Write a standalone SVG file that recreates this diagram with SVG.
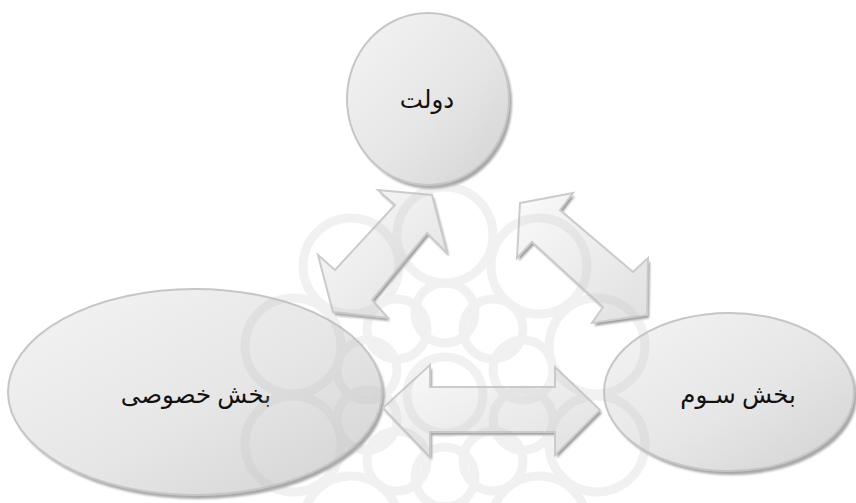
<svg xmlns="http://www.w3.org/2000/svg" width="856" height="503" viewBox="0 0 856 503">
<defs>
<linearGradient id="eg" x1="0" y1="0" x2="1" y2="1">
<stop offset="0" stop-color="#f4f4f4"/>
<stop offset="0.55" stop-color="#e6e6e6"/>
<stop offset="1" stop-color="#d2d2d2"/>
</linearGradient>
<linearGradient id="ag" x1="0" y1="0" x2="1" y2="1">
<stop offset="0" stop-color="#fafafa"/>
<stop offset="1" stop-color="#e0e0e0"/>
</linearGradient>
<filter id="sh" x="-10%" y="-10%" width="130%" height="130%">
<feGaussianBlur stdDeviation="1.2"/>
</filter>
<style>
.ell{fill:url(#eg);stroke:#c6c6c6;stroke-width:2}
.eshadow{fill:#a9a9a9;filter:url(#sh)}
.arr{fill:url(#ag);stroke:#cbcbcb;stroke-width:2;stroke-linejoin:miter}
.ashadow{fill:#9c9c9c;filter:url(#sh)}
.lbl{font-family:"Liberation Serif","DejaVu Sans",serif;font-size:24.5px;fill:#111;text-anchor:middle}
.wm{fill:none;stroke:#bdbdbd;stroke-width:9}
</style>
</defs>
<rect width="856" height="503" fill="#ffffff"/>

<g id="node-dolat">
<ellipse class="eshadow" cx="431" cy="103" rx="81" ry="86"/>
<ellipse class="ell" cx="428" cy="99" rx="81" ry="86"/>
<text class="lbl" x="427" y="108">دولت</text>
</g>

<g id="node-khosousi">
<ellipse class="eshadow" cx="198" cy="396" rx="187" ry="103"/>
<ellipse class="ell" cx="195" cy="392" rx="187" ry="103"/>
<text class="lbl" x="196" y="403">بخش خصوصی</text>
</g>

<g id="node-sevom">
<ellipse class="eshadow" cx="732" cy="396" rx="125" ry="79"/>
<ellipse class="ell" cx="729" cy="392" rx="125" ry="79"/>
<text class="lbl" x="738" y="403">بخش سـوم</text>
</g>

<g id="connectors">
<g id="arrow-dolat-khosousi">
<polygon class="ashadow" transform="translate(2,3)" points="432,195 447,253 427,233 372,300 388,318 333,312 318,255 335,270 395,205 378,190"/>
<polygon class="arr" points="432,195 447,253 427,233 372,300 388,318 333,312 318,255 335,270 395,205 378,190"/>
</g>
<g id="arrow-dolat-sevom">
<polygon class="ashadow" transform="translate(2,3)" points="520,203 573,193 560,210 633,272 648,258 647,315 592,323 603,307 532,242 517,258"/>
<polygon class="arr" points="520,203 573,193 560,210 633,272 648,258 647,315 592,323 603,307 532,242 517,258"/>
</g>
<g id="arrow-khosousi-sevom">
<polygon class="ashadow" transform="translate(2,3)" points="383,408 430,365 430,387 555,387 555,367 600,410 555,455 555,432 430,432 430,457"/>
<polygon class="arr" points="383,408 430,365 430,387 555,387 555,367 600,410 555,455 555,432 430,432 430,457"/>
</g>
</g>

<g id="watermark" opacity="0.2">
<circle class="wm" cx="445" cy="395" r="38"/>
<g transform="translate(445,395)">
<circle class="wm" cx="0" cy="-82" r="30"/>
<circle class="wm" cx="48" cy="-66" r="30"/>
<circle class="wm" cx="78" cy="-25" r="30"/>
<circle class="wm" cx="78" cy="25" r="30"/>
<circle class="wm" cx="48" cy="66" r="30"/>
<circle class="wm" cx="0" cy="82" r="30"/>
<circle class="wm" cx="-48" cy="66" r="30"/>
<circle class="wm" cx="-78" cy="25" r="30"/>
<circle class="wm" cx="-78" cy="-25" r="30"/>
<circle class="wm" cx="-48" cy="-66" r="30"/>
<circle class="wm" cx="0" cy="-160" r="48"/>
<circle class="wm" cx="94" cy="-129" r="48"/>
<circle class="wm" cx="152" cy="-49" r="48"/>
<circle class="wm" cx="152" cy="49" r="48"/>
<circle class="wm" cx="94" cy="129" r="48"/>
<circle class="wm" cx="-94" cy="129" r="48"/>
<circle class="wm" cx="-152" cy="49" r="48"/>
<circle class="wm" cx="-152" cy="-49" r="48"/>
<circle class="wm" cx="-94" cy="-129" r="48"/>
<circle class="wm" cx="0" cy="160" r="48"/>
</g>
</g>
</svg>
